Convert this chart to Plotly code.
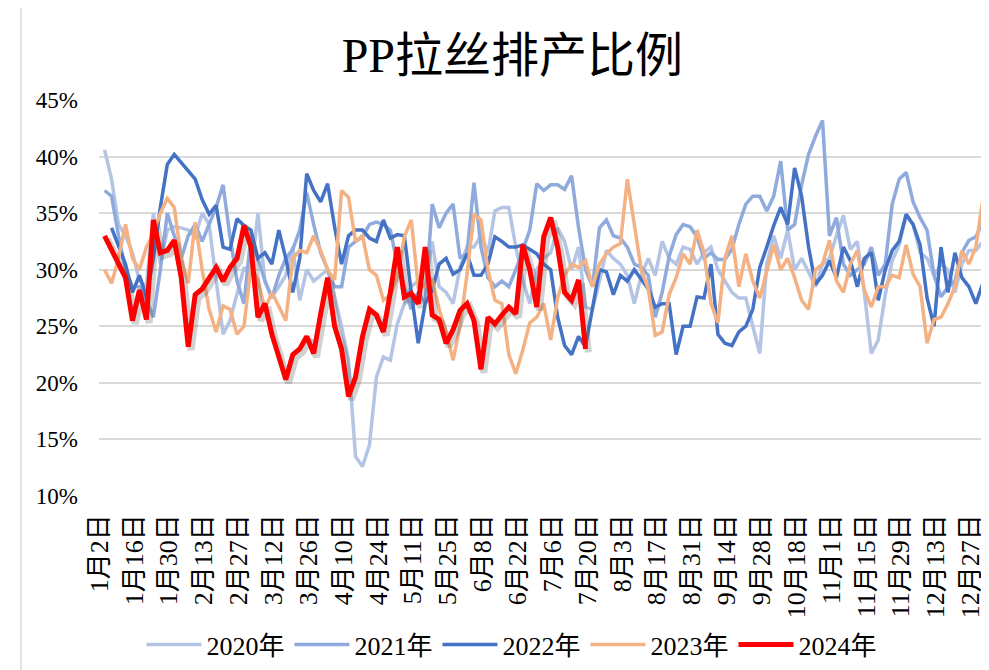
import numpy as np
import plotly.graph_objects as go

# tick labels (every 10 trading days)
tick_labels = ["1月2日", "1月16日", "1月30日", "2月13日", "2月27日", "3月12日", "3月26日",
               "4月10日", "4月24日", "5月11日", "5月25日", "6月8日", "6月22日", "7月6日",
               "7月20日", "8月3日", "8月17日", "8月31日", "9月14日", "9月28日", "10月18日",
               "11月1日", "11月15日", "11月29日", "12月13日", "12月27日"]
y_ticks = [10, 15, 20, 25, 30, 35, 40, 45]

# values sampled every 2 trading days (%)
y2020 = [40.6, 38.0, 34.0, 33.0, 31.5, 29.0, 28.5, 35.0, 30.5, 33.5, 33.8, 33.7, 33.5, 32.9, 35.0,
         34.0, 29.1, 24.3, 25.5, 27.8, 30.2, 29.5, 35.0, 29.0, 27.6, 28.5, 29.5, 32.0, 27.3, 30.0,
         29.0, 29.5, 30.0, 27.6, 25.0, 22.0, 13.5, 12.6, 14.5, 20.5, 22.3, 22.0, 25.2, 27.0, 28.5,
         29.0, 28.5, 32.5, 28.5, 28.0, 27.0, 30.2, 32.0, 32.0, 33.0, 31.5, 35.2, 35.5, 35.5, 32.0,
         29.1, 27.0, 30.0, 31.0, 31.5, 33.7, 32.5, 30.0, 32.0, 26.7, 26.5, 29.0, 31.7, 31.0, 30.5,
         29.5, 27.0, 29.5, 31.0, 29.5, 32.5, 31.0, 30.5, 32.0, 31.8, 30.5, 31.5, 32.0, 30.0, 29.0,
         28.0, 27.5, 27.5, 25.0, 22.6, 30.5, 33.0, 31.0, 33.5, 30.0, 31.0, 29.8, 28.5, 30.5, 31.0,
         33.0, 34.8, 31.8, 32.5, 28.0, 22.6, 23.8, 27.8, 30.8, 32.2, 34.8, 34.0, 31.5, 31.0, 29.5,
         30.5, 30.0, 28.0, 30.5, 31.7, 31.7, 32.5]
y2021 = [37.0, 36.5, 33.0, 30.0, 28.5, 28.5, 27.3, 25.8, 30.0, 35.0, 33.0, 31.0, 33.0, 34.0, 32.5,
         34.0, 35.5, 37.5, 32.9, 29.0, 27.0, 33.0, 31.0, 29.0, 27.5, 29.5, 31.0, 31.8, 33.5, 36.8,
         34.0, 31.5, 30.0, 28.5, 28.5, 32.0, 32.5, 32.9, 34.0, 34.2, 34.0, 33.5, 30.5, 28.5, 26.5,
         28.0, 27.0, 35.8, 33.7, 35.0, 35.8, 31.0, 31.5, 37.7, 32.0, 29.3, 28.5, 29.0, 28.5, 30.0,
         31.7, 33.5, 37.6, 37.0, 37.5, 37.5, 37.1, 38.3, 33.7, 30.0, 28.5, 33.7, 34.4, 33.0, 32.8,
         32.0, 30.5, 30.2, 29.5, 25.8, 28.0, 31.2, 33.1, 34.0, 33.8, 32.9, 31.0, 31.5, 30.9, 30.9,
         31.8, 34.0, 35.8, 36.5, 36.5, 35.2, 36.5, 39.6, 33.5, 34.0, 37.5, 40.2, 41.8, 43.2, 33.0,
         34.6, 30.5, 29.5, 30.0, 30.5, 32.0, 29.5, 30.5, 35.8, 38.0, 38.6, 36.0, 34.6, 33.5, 29.5,
         27.6, 28.5, 29.0, 31.5, 32.6, 32.9, 34.2]
y2022 = [None, 33.7, 32.0, 30.5, 28.0, 29.5, 27.6, 31.0, 35.5, 39.3, 40.2, 39.5, 38.8, 38.0, 36.2,
         34.9, 35.7, 32.0, 31.8, 34.5, 33.9, 33.5, 31.0, 31.5, 30.5, 33.5, 31.0, 28.0, 31.0, 38.5,
         37.0, 36.0, 37.6, 33.8, 30.5, 33.0, 33.5, 33.5, 32.8, 32.5, 34.4, 32.8, 33.1, 33.0, 28.0,
         23.5, 27.0, 28.2, 30.5, 31.0, 29.6, 30.0, 31.4, 29.5, 29.5, 30.5, 32.9, 32.5, 32.0, 32.0,
         32.2, 31.8, 31.4, 30.5, 30.0, 25.8, 23.3, 22.5, 24.1, 23.2, 26.5, 30.0, 29.8, 27.8, 29.5,
         29.0, 30.0, 29.2, 28.3, 26.7, 27.0, 27.0, 22.5, 25.0, 25.0, 27.6, 27.5, 30.5, 24.3, 23.5,
         23.3, 24.5, 25.0, 26.5, 30.2, 32.0, 33.9, 35.5, 34.0, 39.0, 36.5, 32.0, 28.7, 29.5, 30.8,
         29.3, 32.0, 30.8, 28.5, 31.0, 31.5, 27.3, 30.0, 31.7, 32.5, 34.9, 34.0, 32.2, 27.5, 25.0,
         32.0, 28.0, 31.5, 29.3, 28.5, 27.0, 28.8]
y2023 = [30.0, 28.8, 31.0, 34.0, 31.0, 30.0, 32.0, 33.2, 35.0, 36.3, 35.5, 31.0, 28.8, 34.2, 30.0,
         26.5, 24.5, 26.8, 26.5, 24.3, 25.0, 30.3, 29.1, 26.5, 28.0, 26.7, 25.5, 31.0, 31.7, 31.5,
         33.0, 31.7, 30.0, 29.1, 37.0, 36.4, 32.5, 33.0, 30.0, 29.5, 27.3, 27.8, 29.3, 32.9, 34.4,
         28.5, 28.5, 29.2, 26.5, 24.5, 22.0, 25.0, 29.6, 34.9, 34.4, 30.0, 27.3, 27.0, 22.5, 20.8,
         22.9, 25.3, 25.8, 27.0, 23.8, 27.5, 29.5, 30.5, 30.2, 30.8, 28.5, 30.5, 31.4, 32.0, 32.3,
         38.0, 34.0, 30.0, 28.3, 24.2, 24.5, 27.8, 29.3, 31.4, 30.5, 33.5, 31.5, 27.0, 25.3, 31.0,
         33.0, 28.5, 31.4, 29.0, 27.5, 30.0, 32.2, 30.0, 31.0, 29.3, 27.3, 26.5, 30.0, 30.5, 32.6,
         29.0, 28.0, 30.5, 31.7, 28.2, 26.7, 28.5, 28.5, 29.5, 29.3, 32.2, 29.6, 28.5, 23.5, 25.6,
         25.8, 27.0, 28.5, 31.7, 30.5, 32.0, 36.2]
y2024 = [33.0, 31.8, 30.7, 29.3, 25.5, 28.2, 25.6, 34.4, 31.5, 31.7, 32.6, 29.3, 23.2, 27.8, 28.3,
         29.2, 30.2, 29.0, 30.2, 31.0, 33.9, 32.0, 25.8, 27.0, 24.3, 22.3, 20.3, 22.5, 23.0, 24.1,
         22.6, 26.1, 29.3, 25.0, 23.0, 18.8, 20.5, 24.1, 26.5, 26.0, 24.5, 28.0, 32.0, 27.6, 27.9,
         27.0, 32.0, 26.0, 25.6, 23.5, 24.7, 26.4, 27.0, 25.5, 21.2, 25.8, 25.2, 26.0, 26.7, 26.1,
         32.2, 30.0, 26.7, 32.9, 34.6, 32.0, 28.0, 27.3, 29.1, 23.0]

series = [("2020年", y2020, "#B4C4E4", 3.5),
          ("2021年", y2021, "#8FAADC", 3.5),
          ("2022年", y2022, "#4472C4", 3.5),
          ("2023年", y2023, "#F4B183", 3.5),
          ("2024年", y2024, "#FF0000", 5)]

STEP = 2
FONT = "Liberation Serif, Noto Sans CJK SC, serif"
X0 = -1.6  # small left pad so the first rotated label fits

fig = go.Figure()
for name, vals, color, w in series:
    x = np.arange(len(vals)) * STEP
    if name == "2024年":
        yy = np.array(vals, dtype=float)
        fig.add_trace(go.Scatter(x=x + 0.8, y=yy - 0.3, mode="lines", showlegend=False,
                                 hoverinfo="skip",
                                 line=dict(color="rgba(90,90,90,0.28)", width=7)))
    fig.add_trace(go.Scatter(x=x, y=vals, mode="lines", name=name,
                             line=dict(color=color, width=w), connectgaps=False))

fig.update_layout(
    width=989, height=670,
    paper_bgcolor="white", plot_bgcolor="white",
    margin=dict(l=91, r=10, t=92, b=180),
    title=dict(text="PP拉丝排产比例", x=0.51, xanchor="center", y=0.93, yanchor="middle",
               font=dict(family=FONT, size=48, color="black")),
    font=dict(family=FONT, color="black"),
    showlegend=True,
    legend=dict(orientation="h", x=0.465, xanchor="center", y=-0.375, yanchor="middle",
                font=dict(family=FONT, size=26, color="black"), itemwidth=55),
)
fig.update_xaxes(range=[X0, 253.2], tickmode="array",
                 tickvals=[i * 10 - 1.5 for i in range(len(tick_labels))], ticktext=tick_labels,
                 tickangle=-90, tickfont=dict(family=FONT, size=26, color="black"),
                 showgrid=False, zeroline=False, showline=False, ticks="",
                 ticklabelstandoff=12)
fig.update_yaxes(range=[10, 45], tickmode="array", tickvals=y_ticks,
                 ticktext=[f"{v}%" for v in y_ticks],
                 tickfont=dict(family=FONT, size=23, color="black"),
                 showgrid=True, gridcolor="#D9D9D9", gridwidth=1.5, zeroline=False,
                 showline=False, ticks="", ticklabelstandoff=20)

fig.add_shape(type="line", xref="paper", yref="paper",
              x0=(13 - 91) / 888, x1=(13 - 91) / 888, y0=-180 / 398, y1=92 / 398 + 1,
              line=dict(color="#D9D9D9", width=1.5))

fig.write_html("out.html")
